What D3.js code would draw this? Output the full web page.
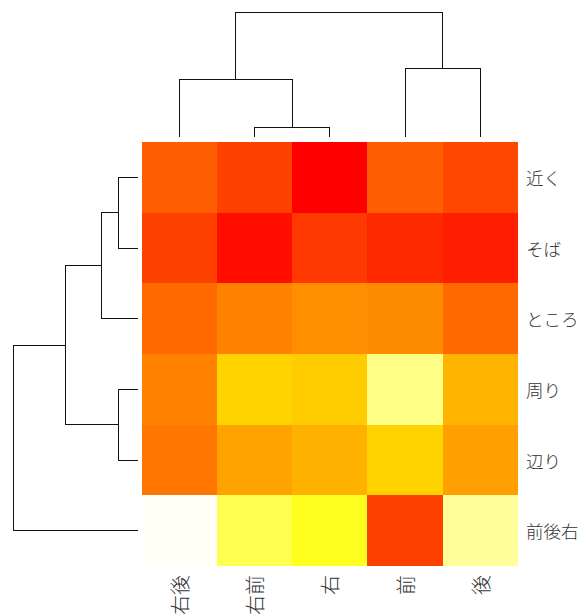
<!DOCTYPE html>
<html>
<head>
<meta charset="utf-8">
<script src="https://cdn.jsdelivr.net/npm/d3@7"></script>
<style>
  body { margin: 0; background: #fff; }
  text { font-family: "Noto Sans CJK JP", sans-serif; fill: #333; font-weight: 300; }
</style>
</head>
<body>
<svg id="chart" width="580" height="616"></svg>
<script>
const rowLabels = ['近く', 'そば', 'ところ', '周り', '辺り', '前後右'];
const colLabels = ['右後', '右前', '右', '前', '後'];

// row-scaled values (0 = red, 1 = white)
const values = [
  [0.28, 0.19, 0.00, 0.28, 0.21],
  [0.19, 0.04, 0.17, 0.12, 0.09],
  [0.31, 0.38, 0.42, 0.41, 0.31],
  [0.38, 0.62, 0.60, 0.88, 0.53],
  [0.35, 0.48, 0.52, 0.62, 0.47],
  [0.99, 0.83, 0.78, 0.19, 0.90]
];

// dendrograms: leaf = index into labels, h = merge height
const colTree = { h: 1.0, children: [
  { h: 0.464, children: [ { leaf: 0 }, { h: 0.08, children: [ { leaf: 1 }, { leaf: 2 } ] } ] },
  { h: 0.552, children: [ { leaf: 3 }, { leaf: 4 } ] }
] };
const rowTree = { h: 1.0, children: [
  { h: 0.58, children: [
    { h: 0.29, children: [ { h: 0.16, children: [ { leaf: 0 }, { leaf: 1 } ] }, { leaf: 2 } ] },
    { h: 0.16, children: [ { leaf: 3 }, { leaf: 4 } ] }
  ] },
  { leaf: 5 }
] };

const svg = d3.select('#chart');
const gridLeft = 141.7, gridRight = 518, gridTop = 142, gridBottom = 566;

const x = d3.scaleBand().domain(d3.range(colLabels.length)).range([gridLeft, gridRight]);
const y = d3.scaleBand().domain(d3.range(rowLabels.length)).range([gridTop, gridBottom]);

const heat = d3.scaleLinear()
  .domain([0, 0.75, 1])
  .range(['#ff0000', '#ffff00', '#ffffff'])
  .clamp(true);

const cells = [];
values.forEach((row, i) => row.forEach((v, j) => cells.push({ i, j, v })));

svg.append('g')
  .selectAll('rect')
  .data(cells)
  .enter()
  .append('rect')
  .attr('x', d => x(d.j))
  .attr('y', d => y(d.i))
  .attr('width', x.bandwidth())
  .attr('height', y.bandwidth())
  .attr('fill', d => heat(d.v))
  .attr('shape-rendering', 'crispEdges');

// row labels (right)
svg.append('g')
  .selectAll('text')
  .data(rowLabels)
  .enter()
  .append('text')
  .attr('x', 526)
  .attr('y', (d, i) => y(i) + y.bandwidth() / 2)
  .attr('dominant-baseline', 'central')
  .attr('font-size', 17.5)
  .text(d => d);

// column labels (bottom, rotated)
svg.append('g')
  .selectAll('text')
  .data(colLabels)
  .enter()
  .append('text')
  .attr('transform', (d, j) => `translate(${x(j) + x.bandwidth() / 2},575) rotate(-90)`)
  .attr('text-anchor', 'end')
  .attr('dominant-baseline', 'central')
  .attr('font-size', 20)
  .text(d => d);

// column dendrogram (top)
const colH = d3.scaleLinear().domain([0, 1]).range([137, 12]);
const colRoot = d3.hierarchy(colTree);
colRoot.eachAfter(n => {
  n.px = n.children ? d3.mean(n.children, c => c.px) : x(n.data.leaf) + x.bandwidth() / 2;
  n.py = colH(n.data.h || 0);
});
const colLinks = [];
colRoot.each(n => {
  if (!n.children) return;
  const a = n.children[0], b = n.children[n.children.length - 1];
  colLinks.push(`M${a.px},${a.py}V${n.py}H${b.px}V${b.py}`);
});
svg.append('g')
  .selectAll('path')
  .data(colLinks)
  .enter()
  .append('path')
  .attr('d', d => d)
  .attr('fill', 'none')
  .attr('stroke', '#111')
  .attr('stroke-width', 1)
  .attr('shape-rendering', 'crispEdges');

// row dendrogram (left)
const rowH = d3.scaleLinear().domain([0, 1]).range([138, 13.5]);
const rowRoot = d3.hierarchy(rowTree);
rowRoot.eachAfter(n => {
  n.py = n.children ? d3.mean(n.children, c => c.py) : y(n.data.leaf) + y.bandwidth() / 2;
  n.px = rowH(n.data.h || 0);
});
const rowLinks = [];
rowRoot.each(n => {
  if (!n.children) return;
  const a = n.children[0], b = n.children[n.children.length - 1];
  rowLinks.push(`M${a.px},${a.py}H${n.px}V${b.py}H${b.px}`);
});
svg.append('g')
  .selectAll('path')
  .data(rowLinks)
  .enter()
  .append('path')
  .attr('d', d => d)
  .attr('fill', 'none')
  .attr('stroke', '#111')
  .attr('stroke-width', 1)
  .attr('shape-rendering', 'crispEdges');
</script>
</body>
</html>
